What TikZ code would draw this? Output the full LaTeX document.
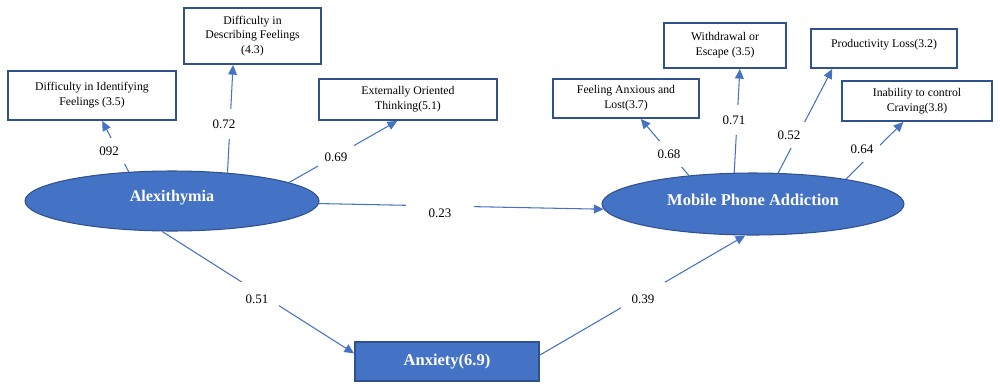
\documentclass[tikz,border=0pt]{standalone}
\usepackage{fontspec}
\setmainfont{Liberation Serif}
\usetikzlibrary{shapes.geometric,arrows.meta,calc}
\definecolor{ob}{HTML}{4472C4}
\definecolor{obd}{HTML}{2F528F}
\begin{document}
\begin{tikzpicture}[x=0.02cm,y=-0.02cm,
  ind/.style={draw=obd,line width=1.1pt,fill=white,align=center,inner sep=1pt,
    font=\fontsize{6.7}{8.4}\selectfont},
  lat/.style={ellipse,draw=obd,line width=0.6pt,fill=ob,text=white,inner sep=0pt,
    font=\fontsize{9.2}{11}\selectfont\bfseries},
  anxbox/.style={rectangle,draw=obd,line width=1.1pt,fill=ob,text=white,inner sep=0pt,
    font=\fontsize{9.4}{11}\selectfont\bfseries},
  lbl/.style={fill=white,inner xsep=4pt,inner ysep=5pt,font=\fontsize{7.4}{9}\selectfont},
  arr/.style={draw=ob,line width=0.6pt,-{Triangle[length=5.5pt,width=5pt]}}]
\useasboundingbox (0,0) rectangle (1000,389);

% latent variables
\node[lat,minimum width=5.88cm,minimum height=1.2cm] (alex) at (172,201) {};
\node[font=\fontsize{9.2}{11}\selectfont\bfseries,text=white] (alext) at (172,198) {Alexithymia};
\node[lat,minimum width=6.04cm,minimum height=1.24cm] (mpa) at (753,204) {};
\node[font=\fontsize{9.4}{11}\selectfont\bfseries,text=white] (mpat) at (753,200) {Mobile Phone Addiction};
\node[anxbox,minimum width=3.68cm,minimum height=0.78cm] (anx) at (447,361.5) {Anxiety(6.9)};

% indicators
\node[ind,minimum width=3.36cm,minimum height=0.98cm] (dif1) at (92,95.5) {Difficulty in Identifying\\Feelings (3.5)};
\node[ind,minimum width=2.74cm,minimum height=1.12cm] (dif2) at (252.5,36) {Difficulty in\\Describing Feelings\\(4.3)};
\node[ind,minimum width=3.56cm,minimum height=0.82cm] (ext) at (408,99.5) {Externally Oriented\\Thinking(5.1)};
\node[ind,minimum width=2.92cm,minimum height=0.78cm] (fal) at (626,98.5) {Feeling Anxious and\\Lost(3.7)};
\node[ind,minimum width=2.44cm,minimum height=0.9cm] (wd) at (725,45.5) {Withdrawal or\\Escape (3.5)};
\node[ind,minimum width=2.92cm,minimum height=0.78cm] (pl) at (884,48.5) {Productivity Loss(3.2)\\[-2.5pt]\mbox{}};
\node[ind,minimum width=3.0cm,minimum height=0.8cm] (inab) at (917,101) {Inability to control\\Craving(3.8)};

% connectors
\draw[arr] (alex.146) -- ($(dif1.south west)!0.56!(dif1.south east)$);
\draw[arr] (alex.27) -- ($(dif2.south west)!0.36!(dif2.south east)$);
\draw[arr] (alex.9) -- ($(ext.south west)!0.44!(ext.south east)$);
\draw[arr] (mpa.156) -- ($(fal.south west)!0.60!(fal.south east)$);
\draw[arr] (mpa.121) -- ($(wd.south west)!0.62!(wd.south east)$);
\draw[arr] (mpa.51) -- ($(pl.south west)!0.15!(pl.south east)$);
\draw[arr] (mpa.15) -- ($(inab.south west)!0.41!(inab.south east)$);
\draw[arr] (alex.-1) -- (mpa.182.5);
\draw[arr] (alex.252) -- (anx.175);
\draw[arr] (anx.4) -- (mpa.256);

% coefficient labels
\node[lbl] (l1) at (109,151) {092};
\node[lbl,inner ysep=6pt] (l2) at (224,124) {0.72};
\node[lbl] (l3) at (336,157) {0.69};
\node[lbl] (l4) at (669,154) {0.68};
\node[lbl,inner ysep=6pt] (l5) at (734,120) {0.71};
\node[lbl] (l6) at (789,135) {0.52};
\node[lbl] (l7) at (862,149) {0.64};
\node[lbl,inner xsep=13pt,inner ysep=4pt] (l8) at (440,213) {0.23};
\node[lbl,inner xsep=6pt,inner ysep=7pt] (l9) at (257,299) {0.51};
\node[lbl,inner xsep=6pt,inner ysep=7pt] (l10) at (643,299) {0.39};
\end{tikzpicture}
\end{document}
